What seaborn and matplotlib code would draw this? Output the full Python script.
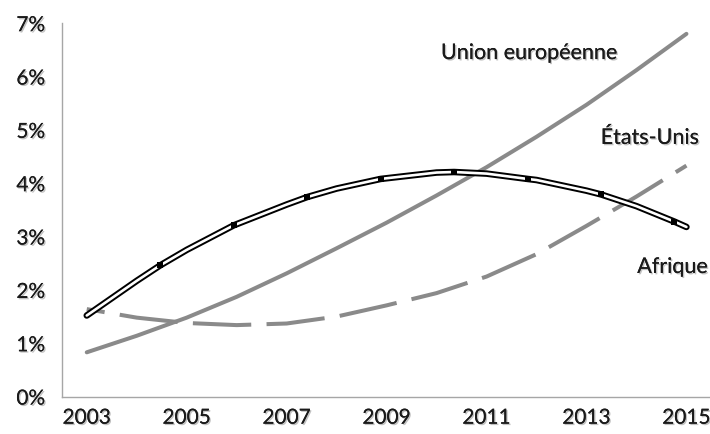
import numpy as np
import matplotlib
matplotlib.use("Agg")
import matplotlib.pyplot as plt
import matplotlib.patheffects as pe
import seaborn as sns

# values (percent)
years = [2003, 2004, 2005, 2006, 2007, 2008, 2009, 2010, 2011, 2012, 2013, 2014, 2015]
ue = [0.83, 1.14, 1.48, 1.87, 2.31, 2.78, 3.26, 3.77, 4.30, 4.87, 5.47, 6.12, 6.80]
usa = [1.64, 1.48, 1.38, 1.34, 1.37, 1.50, 1.71, 1.94, 2.25, 2.67, 3.20, 3.75, 4.33]
afr_x = [2003, 2004, 2004.47, 2005, 2005.94, 2007, 2007.41, 2008, 2008.88,
         2010, 2010.35, 2011, 2011.82, 2012, 2013, 2013.29, 2014, 2014.76, 2015]
afr = [1.52, 2.17, 2.46, 2.75, 3.21, 3.60, 3.74, 3.90, 4.08,
       4.20, 4.21, 4.18, 4.08, 4.06, 3.86, 3.79, 3.57, 3.28, 3.18]
mark_x = [2004.47, 2005.94, 2007.41, 2008.88, 2010.35, 2011.82, 2013.29, 2014.76]
mark_y = [2.46, 3.21, 3.74, 4.08, 4.21, 4.08, 3.79, 3.28]
ytick_labels = ["0%", "1%", "2%", "3%", "4%", "5%", "6%", "7%"]
xtick_years = [2003, 2005, 2007, 2009, 2011, 2013, 2015]

sns.set_style("white")
plt.rcParams["font.family"] = ["Lato", "DejaVu Sans"]

gray = "#8a8a8a"
axis_gray = "#a6a6a6"
txt = "#1a1a1a"
shadow = [pe.withSimplePatchShadow(offset=(1, -1), shadow_rgbFace="#777777", alpha=0.45), pe.Normal()]

fig = plt.figure(figsize=(7.1, 4.34), dpi=100)
ax = fig.add_axes([0.087, 0.0862, 0.915, 0.8604])

sns.lineplot(x=years, y=ue, ax=ax, color=gray, linewidth=2.9, solid_capstyle="round")
sns.lineplot(x=years, y=usa, ax=ax, color=gray, linewidth=2.9,
             linestyle=(10, (14.5, 3.8)), dash_capstyle="butt")
# Afrique: double line (black outline, white core)
sns.lineplot(x=afr_x, y=afr, ax=ax, color="black", linewidth=4.7,
             solid_capstyle="round", solid_joinstyle="round")
sns.lineplot(x=afr_x, y=afr, ax=ax, color="white", linewidth=1.9,
             solid_capstyle="round", solid_joinstyle="round")
sns.scatterplot(x=mark_x, y=mark_y, ax=ax, color="black", marker="s", s=16,
                linewidth=0, zorder=5)

ax.set_xlim(2002.5, 2015.5)
ax.set_ylim(0, 7)
ax.set_yticks(range(8))
ax.set_yticklabels(ytick_labels)
ax.set_xticks(xtick_years)
ax.set_xticklabels([str(y) for y in xtick_years])
ax.set_xticks(np.arange(2002.5, 2016, 1), minor=True)

ax.tick_params(axis="x", which="major", length=0, pad=8, labelsize=15, colors=txt)
ax.tick_params(axis="x", which="minor", length=5, width=1, color=axis_gray, direction="out")
ax.tick_params(axis="y", which="major", length=5, width=1, color=axis_gray, direction="out",
               pad=7, labelsize=15, labelcolor=txt)
for lab in ax.get_xticklabels() + ax.get_yticklabels():
    lab.set_path_effects(shadow)

for s in ["top", "right"]:
    ax.spines[s].set_visible(False)
for s in ["left", "bottom"]:
    ax.spines[s].set_color(axis_gray)
    ax.spines[s].set_linewidth(1)

ax.set_xlabel("")
ax.set_ylabel("")

ax.text(2011.85, 6.44, "Union européenne", ha="center", va="center", fontsize=15.5,
        color=txt, path_effects=shadow)
ax.text(2014.27, 4.85, "États-Unis", ha="center", va="center", fontsize=15.5,
        color=txt, path_effects=shadow)
ax.text(2014.72, 2.43, "Afrique", ha="center", va="center", fontsize=15.5,
        color=txt, path_effects=shadow)

fig.savefig("out.png", dpi=100)
